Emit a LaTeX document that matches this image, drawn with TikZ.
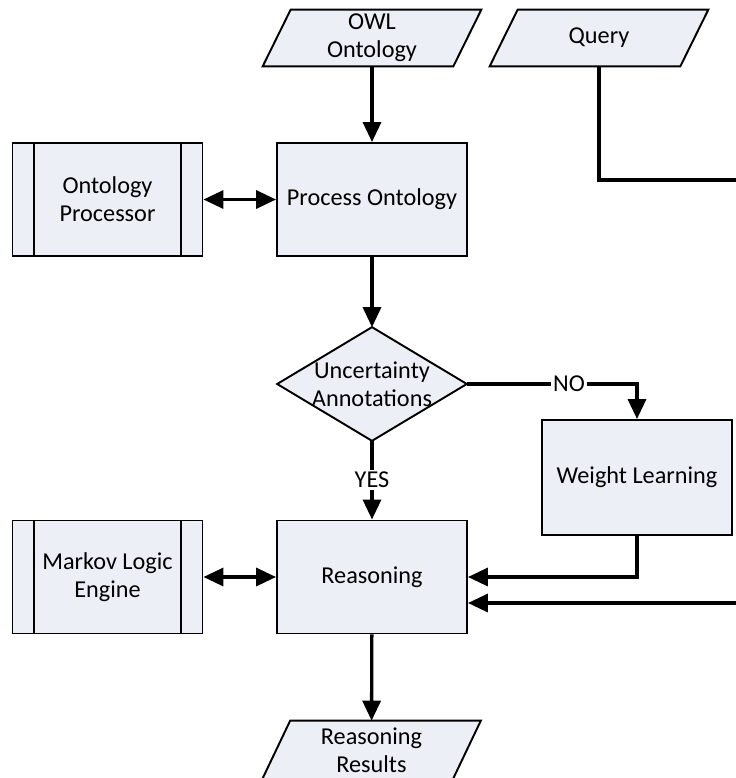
\documentclass[tikz,border=0pt]{standalone}
\usepackage{fontspec}
\setmainfont{Carlito}
\usetikzlibrary{arrows.meta,backgrounds}
\definecolor{boxfill}{RGB}{236,239,245}

\begin{document}
\begin{tikzpicture}[x=0.02cm, y=-0.02cm,
      font=\fontsize{13.8pt}{16pt}\selectfont,
      frame/.style={draw, line width=1.1pt, fill=boxfill},
      block/.style={frame, minimum width=3.8cm, minimum height=2.26cm,
                    inner sep=0pt, align=center},
      data/.style={minimum width=3.8cm, minimum height=1.12cm, inner sep=0pt,
                   align=center},
      decide/.style={minimum width=3.78cm, minimum height=2.26cm, inner sep=0pt,
                     align=center},
      arr/.style={line width=1.9pt, -{Triangle[length=0.4cm,width=0.36cm]}},
      darr/.style={line width=1.9pt,
                   {Triangle[length=0.4cm,width=0.36cm]}-{Triangle[length=0.4cm,width=0.36cm]}},
      tag/.style={fill=white, inner sep=1pt}]
      \useasboundingbox (0, 0) rectangle (736, 778);
      \clip (0, 0) rectangle (736, 778);
      % inputs
      \node (owl) [data] at (372, 38) {OWL\\Ontology};
      \node (query) [data] at (599, 38) {Query};
      % ontology part
      \node (proc) [block] at (372, 199.5) {Process Ontology};
      \node (oproc) [block] at (107.5, 199.5) {Ontology\\Processor};
      \node (dec) [decide] at (372, 384) {Uncertainty\\Annotations};
      \node (weight) [block, minimum height=2.3cm] at (637, 477.5) {Weight Learning};
      % reasoning part
      \node (reas) [block] at (372, 577) {Reasoning};
      \node (markov) [block] at (107.5, 577) {Markov Logic\\Engine};
      \node (res) [data, minimum height=1.16cm] at (371.5, 750) {Reasoning\\Results};
      % parallelograms and diamond behind the texts
      \begin{scope}[on background layer]
            \foreach \n in {owl, query, res}
                  \draw [frame] ([xshift=0.28cm]\n.north west) -- ([xshift=0.28cm]\n.north east)
                                -- ([xshift=-0.28cm]\n.south east) -- ([xshift=-0.28cm]\n.south west) -- cycle;
            \draw [frame] (dec.north) -- (dec.east) -- (dec.south) -- (dec.west) -- cycle;
      \end{scope}
      % side bars of the subroutine boxes
      \draw [line width=0.8pt] ([xshift=0.45cm]oproc.north west) -- ([xshift=0.45cm]oproc.south west)
                               ([xshift=-0.45cm]oproc.north east) -- ([xshift=-0.45cm]oproc.south east)
                               ([xshift=0.45cm]markov.north west) -- ([xshift=0.45cm]markov.south west)
                               ([xshift=-0.45cm]markov.north east) -- ([xshift=-0.45cm]markov.south east);
      \coordinate (qfar) at (790, 180);
      \draw [arr] (owl) -- (proc);
      \draw [darr] (oproc) -- (proc);
      \draw [arr] (proc) -- (dec);
      \draw [arr] (dec.east) -| node [tag, pos=0.3] {NO} (weight.north);
      \draw [arr] (dec.south) -- node [tag] {YES} (reas.north);
      \draw [arr] (weight.south) |- (reas.east);
      \draw [arr] (query.south) |- (qfar) |- ([yshift=-0.52cm]reas.east);
      \draw [darr] (markov) -- (reas);
      \draw [arr] (reas) -- (res);
\end{tikzpicture}
\end{document}
